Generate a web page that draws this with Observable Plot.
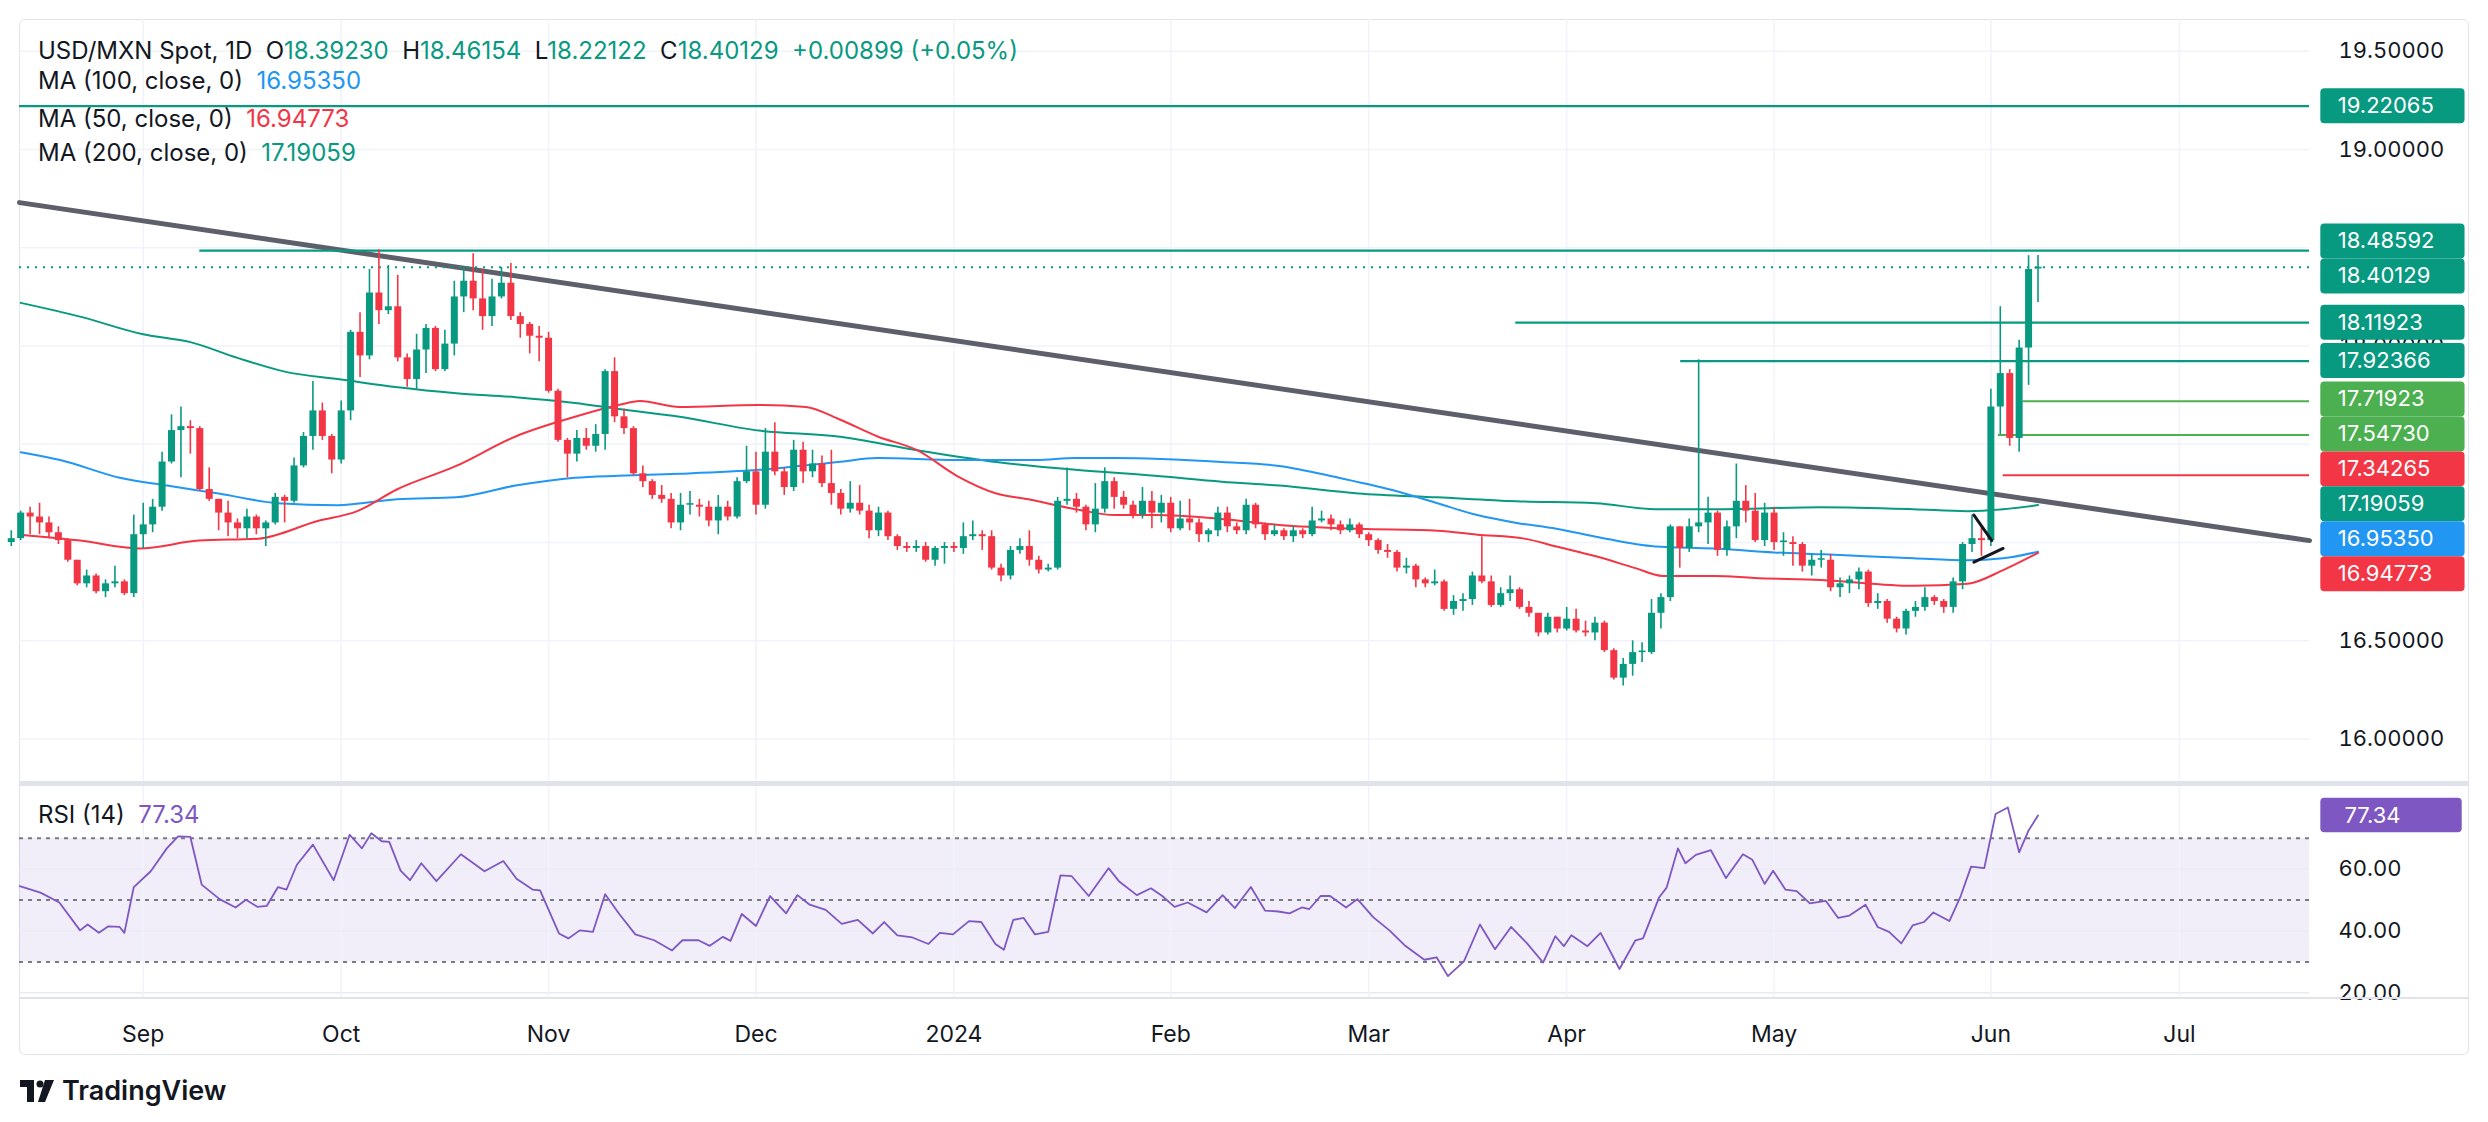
<!DOCTYPE html>
<html><head><meta charset="utf-8">
<script src="https://cdn.jsdelivr.net/npm/d3@7"></script>
<script src="https://cdn.jsdelivr.net/npm/@observablehq/plot@0.6"></script>
<style>
html,body{margin:0;background:#fff;font-family:Inter,Roboto,sans-serif;overflow:hidden;}
#wrap{position:relative;width:2488px;height:1122px;overflow:hidden;}
#frame{position:absolute;left:19px;top:19px;width:2450px;height:1036px;border:1.5px solid #e0e3eb;border-radius:6px;box-sizing:border-box;}
.abs{position:absolute;}
.leg{position:absolute;left:38px;font-size:24px;color:#131722;white-space:pre;line-height:1;}
</style></head><body>
<div id="wrap">
<div id="frame"></div>
<div id="main" class="abs" style="left:0;top:19px"></div>
<div class="abs" style="left:19px;top:781px;width:2450px;height:5px;background:#e0e3eb"></div>
<div id="rsi" class="abs" style="left:0;top:786px"></div>
<div class="abs" style="left:19px;top:997px;width:2450px;height:1.5px;background:#e0e3eb"></div>
<div class="leg" style="top:39px">USD/MXN Spot, 1D  O<span style="color:#089981">18.39230</span>  H<span style="color:#089981">18.46154</span>  L<span style="color:#089981">18.22122</span>  C<span style="color:#089981">18.40129</span>  <span style="color:#089981">+0.00899 (+0.05%)</span></div>
<div class="leg" style="top:69px">MA (100, close, 0)  <span style="color:#2196f3">16.95350</span></div>
<div class="leg" style="top:107px">MA (50, close, 0)  <span style="color:#f23645">16.94773</span></div>
<div class="leg" style="top:141px">MA (200, close, 0)  <span style="color:#089981">17.19059</span></div>
<div class="leg" style="top:803px">RSI (14)  <span style="color:#7e57c2">77.34</span></div>
<div class="abs" style="left:20px;top:1074px;font-size:27px;font-weight:600;color:#131722;display:flex;align-items:center;gap:6px">
<svg width="36" height="22" viewBox="0 0 36 22"><rect x="0" y="0" width="14" height="7" fill="#131722"/><rect x="7" y="0" width="7" height="22" fill="#131722"/><circle cx="20" cy="4" r="3.5" fill="#131722"/><polygon points="25,0 34,0 25,22 18,22" fill="#131722"/></svg>TradingView</div>
</div>
<script>
const closes=[17.02,17.15,17.13,17.10,17.05,17.01,16.91,16.79,16.83,16.75,16.79,16.80,16.74,17.04,17.09,17.18,17.41,17.57,17.59,17.58,
17.27,17.22,17.15,17.10,17.07,17.13,17.07,17.10,17.23,17.21,17.39,17.54,17.67,17.54,17.42,17.67,18.07,17.95,18.27,18.18,
18.20,17.94,17.83,17.98,18.09,17.88,18.01,18.25,18.33,18.24,18.15,18.25,18.32,18.15,18.11,18.05,18.04,17.77,17.52,17.45,
17.53,17.49,17.55,17.87,17.64,17.58,17.35,17.31,17.24,17.22,17.10,17.19,17.19,17.18,17.11,17.18,17.13,17.31,17.36,17.19,
17.46,17.36,17.28,17.47,17.36,17.40,17.30,17.25,17.17,17.20,17.16,17.06,17.15,17.03,16.98,16.97,16.98,16.91,16.97,16.98,
16.97,17.03,17.04,17.03,16.87,16.83,16.96,16.98,16.91,16.86,16.87,17.21,17.22,17.18,17.09,17.17,17.31,17.23,17.19,17.14,
17.21,17.15,17.20,17.07,17.12,17.10,17.04,17.06,17.15,17.08,17.06,17.19,17.09,17.04,17.06,17.03,17.06,17.04,17.11,17.12,
17.09,17.06,17.09,17.04,17.01,16.96,16.95,16.87,16.88,16.81,16.79,16.80,16.66,16.70,16.71,16.83,16.80,16.68,16.74,16.76,
16.67,16.64,16.54,16.62,16.56,16.61,16.55,16.54,16.59,16.45,16.31,16.38,16.44,16.44,16.64,16.72,17.08,16.97,17.08,17.10,
17.15,16.96,17.08,17.21,17.16,17.01,17.15,17.00,17.00,16.99,16.88,16.91,16.91,16.77,16.79,16.81,16.85,16.69,16.70,16.61,
16.56,16.65,16.67,16.72,16.70,16.67,16.80,16.99,17.02,17.01,17.69,17.86,17.53,17.99,18.39,18.40129];
const highs=[17.06,17.16,17.18,17.20,17.13,17.08,17.02,16.91,16.86,16.84,16.81,16.88,16.81,17.14,17.20,17.22,17.46,17.65,17.69,17.62,
17.59,17.38,17.22,17.21,17.12,17.17,17.14,17.11,17.25,17.24,17.43,17.56,17.82,17.71,17.55,17.72,18.08,18.17,18.39,18.49,
18.41,18.36,17.96,18.06,18.11,18.10,18.08,18.33,18.40,18.47,18.39,18.34,18.40,18.42,18.17,18.12,18.10,18.07,17.78,17.53,
17.57,17.58,17.60,17.88,17.94,17.68,17.59,17.39,17.32,17.29,17.25,17.25,17.26,17.22,17.21,17.24,17.21,17.33,17.49,17.46,
17.58,17.61,17.38,17.52,17.51,17.47,17.44,17.47,17.27,17.31,17.29,17.19,17.18,17.16,17.04,17.00,17.01,17.00,16.98,17.00,
17.00,17.10,17.11,17.06,17.06,16.89,16.98,17.02,17.06,16.93,16.89,17.23,17.38,17.25,17.19,17.30,17.38,17.33,17.26,17.21,
17.28,17.26,17.24,17.23,17.21,17.22,17.12,17.07,17.18,17.18,17.10,17.22,17.20,17.10,17.09,17.07,17.08,17.07,17.18,17.16,
17.14,17.11,17.12,17.10,17.05,17.02,16.99,16.96,16.92,16.89,16.82,16.86,16.81,16.73,16.74,16.85,17.03,16.83,16.77,16.83,
16.77,16.70,16.63,16.64,16.62,16.67,16.66,16.60,16.62,16.60,16.46,16.41,16.50,16.49,16.71,16.74,17.09,17.08,17.12,17.93,
17.23,17.16,17.11,17.40,17.29,17.25,17.20,17.18,17.05,17.03,17.00,16.94,16.96,16.94,16.82,16.83,16.87,16.86,16.74,16.71,
16.62,16.66,16.70,16.77,16.73,16.71,16.82,17.00,17.14,17.08,17.78,18.20,17.88,18.03,18.46,18.46154];
const lows=[16.98,17.01,17.04,17.04,17.02,16.99,16.90,16.78,16.77,16.74,16.72,16.77,16.73,16.72,16.97,17.05,17.16,17.40,17.33,17.45,
17.26,17.21,17.06,17.03,17.02,17.02,17.04,16.98,17.09,17.10,17.20,17.38,17.47,17.52,17.35,17.40,17.62,17.84,17.93,18.11,
18.16,17.92,17.79,17.78,17.86,17.87,17.87,17.95,18.17,18.18,18.08,18.10,18.24,18.13,18.04,17.96,17.92,17.76,17.51,17.33,
17.41,17.47,17.46,17.47,17.61,17.55,17.34,17.28,17.22,17.20,17.07,17.06,17.14,17.13,17.08,17.04,17.11,17.12,17.30,17.14,
17.17,17.34,17.24,17.26,17.30,17.33,17.28,17.19,17.14,17.15,17.14,17.02,17.03,17.01,16.96,16.95,16.95,16.90,16.88,16.89,
16.95,16.94,17.01,16.96,16.86,16.80,16.81,16.94,16.88,16.84,16.85,16.86,17.19,17.15,17.06,17.05,17.15,17.17,17.17,17.12,
17.12,17.07,17.10,17.05,17.06,17.06,17.00,17.00,17.03,17.05,17.04,17.04,17.07,17.01,17.03,17.01,17.00,17.02,17.03,17.10,
17.06,17.04,17.05,17.02,16.98,16.94,16.92,16.85,16.84,16.77,16.77,16.78,16.65,16.63,16.65,16.68,16.79,16.67,16.67,16.70,
16.66,16.62,16.52,16.53,16.54,16.55,16.54,16.52,16.50,16.44,16.30,16.27,16.32,16.39,16.43,16.56,16.70,16.87,16.95,17.05,
16.99,16.93,16.93,17.02,17.10,17.00,16.98,16.96,16.93,16.88,16.85,16.83,16.87,16.75,16.72,16.74,16.76,16.67,16.66,16.59,
16.54,16.53,16.62,16.65,16.68,16.64,16.64,16.76,16.95,16.93,16.98,17.55,17.49,17.46,17.80,18.22122];
const firstOpen=17.00, lastOpen=18.39230;

const ma200=[[1,18.22],[7.3,18.15],[14,18.06],[19,18.02],[24,17.94],[29,17.87],[35,17.83],[41,17.79],[47.2,17.76],[53.5,17.74],[59.8,17.71],[64.4,17.68],[70.9,17.64],[79.3,17.57],[87.7,17.54],[96.1,17.47],[104.5,17.41],[112.9,17.37],[121.3,17.34],[128.4,17.31],[134.5,17.29],[142.9,17.25],[151.3,17.23],[159.7,17.21],[168.1,17.20],[174.4,17.17],[180.7,17.17],[192,17.18],[201.8,17.17],[207.5,17.16],[211.3,17.17],[215,17.19059]];
const ma100=[[1,17.46],[5.2,17.42],[11.5,17.33],[16.5,17.29],[22,17.25],[28.3,17.20],[34.6,17.19],[40.9,17.22],[47.2,17.23],[53.5,17.29],[59.8,17.33],[64.4,17.34],[70.9,17.35],[79.3,17.37],[87.7,17.41],[91.9,17.43],[100.3,17.42],[108.7,17.42],[112.9,17.43],[117.1,17.43],[128.4,17.41],[134.5,17.39],[140.8,17.33],[147.1,17.26],[151.3,17.20],[155.5,17.14],[159.7,17.10],[163.9,17.07],[168.1,17.03],[174.4,16.98],[180.7,16.97],[187,16.95],[192.3,16.94],[201.8,16.92],[207.5,16.91],[211.3,16.92],[215,16.9535]];
const ma50=[[1,17.04],[7.3,17.01],[13.6,16.97],[19.9,17.01],[26.2,17.02],[32.5,17.11],[36.7,17.16],[40.9,17.27],[47.2,17.39],[53.5,17.54],[59.8,17.64],[64.4,17.70],[66.7,17.72],[70.9,17.69],[79.3,17.70],[84.3,17.69],[87.7,17.63],[91.9,17.54],[96.1,17.47],[100.3,17.34],[104.5,17.25],[107.9,17.22],[112.9,17.17],[117.1,17.14],[121.3,17.14],[128.4,17.12],[134.5,17.09],[142.9,17.07],[151.3,17.06],[155.5,17.04],[160.5,17.02],[163.9,16.98],[168.1,16.93],[172.3,16.87],[175.2,16.83],[180.7,16.83],[184.9,16.82],[192,16.81],[201.8,16.78],[207.5,16.79],[211.3,16.86],[215,16.94773]];

const rsiX=[0.9,3.1,5.1,7.3,8.1,9.3,10.3,11.5,12,13,14.8,16.5,17.7,19,20.2,22.1,23.8,24.9,26.1,27.1,28.3,29.2,30.3,32,34.2,35.9,37.2,38.2,39.3,40.1,41.3,42.3,43.5,45.1,47.7,50.2,52.2,53.6,55.3,56.1,58.1,59.1,60.3,61.7,63,64.5,66.2,68.2,70.1,71.2,72.9,74.1,75.5,76.3,77.5,79,80.5,82.2,83.4,84.7,86.4,88.1,89.8,91.4,92.6,94,95.6,97.3,98.5,99.9,101.6,102.9,104.4,105.3,106.3,107.4,108.6,110,111.3,112.5,114.3,116.4,117.5,119.4,120.9,122.1,123.4,124.8,126.8,128.5,129.8,131.5,133,134.4,135.6,136.9,137.7,138.9,139.9,141.6,142.8,144.5,146.2,147.8,149.9,151.2,152.4,154.1,155.8,157.4,159.1,160.8,162.5,163.8,164.7,165.5,167.2,168.6,170.6,172.3,173.1,174.8,175.6,176.8,177.6,178.7,180.3,181.9,183.7,184.7,186,186.9,188.2,189.4,190.8,192.5,193.8,195,196.7,198,199.2,200.5,201.7,202.9,203.9,205.6,206.8,207.9,209.3,210.5,211.8,213,214,215];
const rsiV=[54.5,52.4,49.2,40.2,42.1,39.4,41.5,41.3,39.4,54.2,59.3,66.7,70.6,70.4,55,50.3,47.6,50.1,47.8,48.1,54.2,53.4,61.4,67.9,56.4,71.1,66.7,71.6,69,68.8,59.5,56.4,61.9,56.1,64.8,59.3,62.6,56.9,53.4,53.1,39.2,37.6,40.2,39.7,51.9,45.5,38.9,37,33.7,37,37,35.2,38.1,36.8,45.5,41.6,51.3,45.7,51.6,48.5,46.8,42.3,43.6,39.2,42.9,38.6,37.9,35.8,39.4,38.9,43.2,42.9,35.8,33.9,43.6,44.2,38.9,39.7,58,57.7,51.3,60.3,56.1,51.6,53.8,51.3,47.8,49.2,46,51.6,47.4,54.2,46.6,46.3,45.7,47.6,47.1,51.3,51.3,47.6,50.3,44.4,40.2,35.4,30.7,31.5,25.4,30.2,42.1,34.1,41.3,36,29.8,38.3,35.1,38.6,35.1,39.4,27.7,37,37.6,50.8,54,66.7,61.9,64.6,66.1,57.1,64.8,63,55.2,59.5,53.4,52.9,48.9,49.7,44.2,45,48.5,41.3,39.7,36,41.8,42.9,46,43.2,51.3,60.8,60.3,77.8,79.9,65.4,72.5,77.34];

const trend=[[0.875,18.73],[243.8,17.01]];
const hlines=[
 {y:19.22065,from:0.875,color:"#089981"},
 {y:18.48592,from:20,color:"#089981"},
 {y:18.11923,from:159.6,color:"#089981"},
 {y:17.92366,from:177.1,color:"#089981"},
 {y:17.71923,from:213.4,color:"#4caf50"},
 {y:17.54730,from:210.8,color:"#4caf50"},
 {y:17.34265,from:211.3,color:"#f23645"}];
const lastClose=18.40129;
const priceLabels=[
 {v:19.22065,color:"#089981"},{v:18.48592,color:"#089981"},{v:18.40129,color:"#089981"},
 {v:18.11923,color:"#089981"},{v:17.92366,color:"#089981"},{v:17.71923,color:"#4caf50"},
 {v:17.54730,color:"#4caf50"},{v:17.34265,color:"#f23645"},{v:17.19059,color:"#089981"},
 {v:16.95350,color:"#2196f3"},{v:16.94773,color:"#f23645"}];
const marker1=[[208.2,17.14],[210.1,17.01]], marker2=[[208.2,16.90],[211.3,16.97]];
const priceTicks=[16,16.5,17,17.5,18,18.5,19,19.5];
const rsiTicks=[20,40,60];

const dates=[]; {let d=new Date(2023,7,14); while(dates.length<250){const w=d.getDay(); if(w>0&&w<6) dates.push(new Date(d)); d.setDate(d.getDate()+1);}}
const mnames=["Jan","Feb","Mar","Apr","May","Jun","Jul","Aug","Sep","Oct","Nov","Dec"];
const monthTicks=[]; for(let i=1;i<dates.length;i++){ if(dates[i].getMonth()!==dates[i-1].getMonth()&&i<244) monthTicks.push({i,label:dates[i].getMonth()===0?String(dates[i].getFullYear()):mnames[dates[i].getMonth()],bold:dates[i].getMonth()===0}); }

const bars=closes.map((c,i)=>({i,o:i===0?firstOpen:(i===closes.length-1?lastOpen:closes[i-1]),c,h:highs[i],l:lows[i]}));
bars.forEach(b=>{b.up=b.c>=b.o; b.b1=Math.min(b.o,b.c); b.b2=Math.max(b.b1+0.008,Math.max(b.o,b.c));});

const X0=0.875,X1=243.8, W=2488, ML=19, MR=179;
const boxH=0.178;
const labs=priceLabels.map(d=>({...d})).sort((a,b)=>b.v-a.v);
let groups=labs.map(d=>({items:[d]}));
const place=g=>{const m=d3.mean(g.items,d=>d.v); const n=g.items.length; g.items.forEach((d,k)=>d.pos=m+((n-1)/2-k)*boxH);};
groups.forEach(place);
let merged=true;
while(merged){merged=false; for(let k=0;k<groups.length-1;k++){const a=groups[k],b=groups[k+1]; const lo=a.items[a.items.length-1].pos, hi=b.items[0].pos; if(lo-hi<boxH-1e-9){a.items=a.items.concat(b.items); groups.splice(k+1,1); place(a); merged=true; break;}}}

const up="#089981", dn="#f23645";
const main=Plot.plot({
 width:W,height:762,marginLeft:ML,marginRight:MR,marginTop:0,marginBottom:0,
 style:{background:"transparent",overflow:"visible",fontFamily:"Inter,Roboto,sans-serif"},
 x:{domain:[X0,X1],axis:null},
 y:{domain:[15.784,19.662],axis:null},
 marks:[
  Plot.ruleY(priceTicks,{x1:X0,x2:X1,y:d=>d,stroke:"#f0f3fa",strokeWidth:1.5}),
  Plot.ruleX(monthTicks,{x:"i",stroke:"#f0f3fa",strokeWidth:1.5}),
  Plot.axisY({anchor:"right",label:null,ticks:priceTicks,tickFormat:d3.format(".5f"),tickSize:0,tickPadding:29,fontSize:22,fill:"#131722",textAnchor:"start"}),
  Plot.line(trend,{x:d=>d[0],y:d=>d[1],stroke:"#5d606b",strokeWidth:5}),
  Plot.line(ma200,{x:d=>d[0],y:d=>d[1],stroke:"#089981",strokeWidth:2,curve:"monotone-x"}),
  Plot.line(ma100,{x:d=>d[0],y:d=>d[1],stroke:"#2196f3",strokeWidth:2,curve:"monotone-x"}),
  Plot.line(ma50,{x:d=>d[0],y:d=>d[1],stroke:"#f23645",strokeWidth:2,curve:"monotone-x"}),
  Plot.ruleY([lastClose],{x1:X0,x2:X1,y:d=>d,stroke:"#089981",strokeWidth:2,strokeDasharray:"2,6"}),
  Plot.ruleY(hlines,{y:"y",x1:"from",x2:X1,stroke:"color",strokeWidth:2.2}),
  Plot.ruleX(bars,{x:"i",y1:"l",y2:"h",stroke:d=>d.up?up:dn,strokeWidth:1.6}),
  Plot.ruleX(bars,{x:"i",y1:"b1",y2:"b2",stroke:d=>d.up?up:dn,strokeWidth:7}),
  Plot.line(marker1,{x:d=>d[0],y:d=>d[1],stroke:"#131722",strokeWidth:3}),
  Plot.line(marker2,{x:d=>d[0],y:d=>d[1],stroke:"#131722",strokeWidth:3}),
  Plot.rect(labs,{x1:245,x2:260.3,y1:d=>d.pos-boxH/2,y2:d=>d.pos+boxH/2,fill:"color",rx:4}),
  Plot.text(labs,{x:246.8,y:"pos",text:d=>d.v.toFixed(5),fill:"white",textAnchor:"start",fontSize:22})
 ]});
document.getElementById("main").appendChild(main);

const rsiPts=rsiX.map((x,k)=>({x,v:rsiV[k]}));
const rsi=Plot.plot({
 width:W,height:271,marginLeft:ML,marginRight:MR,marginTop:0,marginBottom:60,
 style:{background:"transparent",overflow:"visible",fontFamily:"Inter,Roboto,sans-serif"},
 x:{domain:[X0,X1],axis:null},
 y:{domain:[18.5,86.7],axis:null},
 marks:[
  Plot.rect([0],{x1:X0,x2:X1,y1:30,y2:70,fill:"#7e57c2",fillOpacity:0.1}),
  Plot.ruleY(rsiTicks,{x1:X0,x2:X1,y:d=>d,stroke:"#e9ebf2",strokeWidth:1.5}),
  Plot.ruleX(monthTicks,{x:"i",y1:18.5,y2:86.7,stroke:"#f0f3fa",strokeWidth:1.5}),
  Plot.ruleY([30,50,70],{x1:X0,x2:X1,y:d=>d,stroke:"#787b86",strokeWidth:2,strokeDasharray:"4,5"}),
  Plot.line(rsiPts,{x:"x",y:"v",stroke:"#7e57c2",strokeWidth:1.8}),
  Plot.axisY({anchor:"right",label:null,ticks:rsiTicks,tickFormat:d3.format(".2f"),tickSize:0,tickPadding:29,fontSize:22,fill:"#131722",textAnchor:"start"}),
  Plot.rect([77.34],{x1:245,x2:260,y1:d=>d-5.6,y2:d=>d+5.6,fill:"#7e57c2",rx:4}),
  Plot.text([77.34],{x:247.5,y:d=>d,text:d=>d.toFixed(2),fill:"white",textAnchor:"start",fontSize:22}),
  Plot.text(monthTicks,{x:"i",y:18.5,dy:37,text:"label",fontSize:23,fill:"#131722",fontWeight:d=>d.bold?"700":"400"})
 ]});
document.getElementById("rsi").appendChild(rsi);
</script>
</body></html>
